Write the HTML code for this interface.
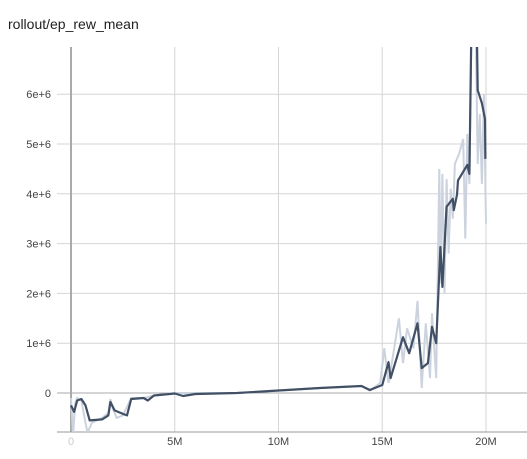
<!DOCTYPE html>
<html><head><meta charset="utf-8"><style>
body{margin:0;background:#fff;font-family:"Liberation Sans",sans-serif;}
</style></head><body>
<svg width="527" height="454" xmlns="http://www.w3.org/2000/svg">
<text x="8" y="29" font-size="14" fill="#212121">rollout/ep_rew_mean</text>
<g id="grid"></g>
<g id="marks" clip-path="url(#cp)"></g>
<defs><clipPath id="cp"><rect x="57" y="47" width="470" height="385"/></clipPath></defs>
<g id="labels" font-size="11" fill="#444"></g>
</svg>
<script>
const xTicks=[0,5,10,15,20];
const xTickLabels=["0","5M","10M","15M","20M"];
const yTicks=[0,1,2,3,4,5,6];
const yTickLabels=["0","1e+6","2e+6","3e+6","4e+6","5e+6","6e+6"];
const smoothX=[0,0.15,0.3,0.5,0.7,0.9,1.5,1.8,1.9,2.1,2.5,2.7,2.9,3.5,3.7,4,5,5.4,6,8,10,12,14,14.4,15,15.3,15.4,16,16.3,16.7,16.9,17.2,17.4,17.6,17.8,17.9,18.1,18.4,18.45,18.6,18.65,19.1,19.2,19.3,19.55,19.6,19.8,19.95,19.97];
const smoothY=[-0.25,-0.38,-0.15,-0.12,-0.25,-0.55,-0.53,-0.45,-0.18,-0.35,-0.42,-0.45,-0.12,-0.1,-0.15,-0.05,-0.01,-0.06,-0.02,0,0.05,0.1,0.14,0.06,0.16,0.62,0.3,1.12,0.8,1.4,0.5,0.6,1.33,1.0,2.93,2.13,3.74,3.9,3.67,3.98,4.27,4.58,4.4,7.5,7.5,6.08,5.82,5.5,4.7];
const rawX=[0,0.1,0.2,0.3,0.5,0.7,0.8,1.0,1.5,1.8,1.9,2.0,2.2,2.5,2.9,3.5,4,5,6,8,10,12,14,14.4,14.9,15.1,15.3,15.5,15.8,16.0,16.2,16.5,16.7,16.9,17.1,17.3,17.4,17.6,17.75,17.8,17.9,18.0,18.1,18.2,18.3,18.4,18.5,18.7,18.9,19.0,19.1,19.2,19.3,19.5,19.6,19.7,19.8,19.9,20];
const rawY=[-0.1,-0.85,-0.2,-0.1,-0.15,-0.6,-0.8,-0.6,-0.5,-0.4,-0.12,-0.3,-0.5,-0.45,-0.1,-0.1,-0.05,0,0,0,0.05,0.1,0.14,0.05,0.2,0.9,0.2,0.7,1.5,0.6,1.3,0.9,1.85,0.1,1.4,0.3,1.6,0.3,4.5,2.2,4.4,2.0,4.3,2.8,4.1,3.5,4.6,4.8,5.1,3.1,5.2,4.2,7.5,7.5,4.6,5.6,4.2,6.0,3.4];
const X=v=>71+v*20.75, Y=v=>393-v*49.8;
const NS="http://www.w3.org/2000/svg";
function mk(t,a,p){const e=document.createElementNS(NS,t);for(const k in a)e.setAttribute(k,a[k]);p.appendChild(e);return e;}
const grid=document.getElementById('grid'),labels=document.getElementById('labels'),marks=document.getElementById('marks');
yTicks.forEach((t,i)=>{const l=mk('line',{x1:57,x2:527,y1:Y(t),y2:Y(t),stroke:t===0?'#aaa':'#d6d6d6','stroke-width':1},grid);


const tx=mk('text',{x:51,y:Y(t)+4,'text-anchor':'end'},labels);tx.textContent=yTickLabels[i];

});
xTicks.forEach((t,i)=>{const l=mk('line',{x1:X(t),x2:X(t),y1:47,y2:432,stroke:t===0?'#aaa':'#d6d6d6','stroke-width':t===0?2:1},grid);


const tx=mk('text',{x:X(t),y:445,'text-anchor':'middle',fill:t===0?'#ccc':'#444'},labels);tx.textContent=xTickLabels[i];

});
const ax=mk('line',{x1:57,x2:527,y1:432,y2:432,stroke:'#999'},grid);


const pts=(xs,ys)=>xs.map((x,i)=>X(x).toFixed(1)+','+Y(ys[i]).toFixed(1)).join(' ');
const raw=mk('polyline',{points:pts(rawX,rawY),fill:'none',stroke:'#ccd3de','stroke-width':2},marks);


const sm=mk('polyline',{points:pts(smoothX,smoothY),fill:'none',stroke:'#425066','stroke-width':2.2,'stroke-linejoin':'round'},marks);


</script>
</body></html>
